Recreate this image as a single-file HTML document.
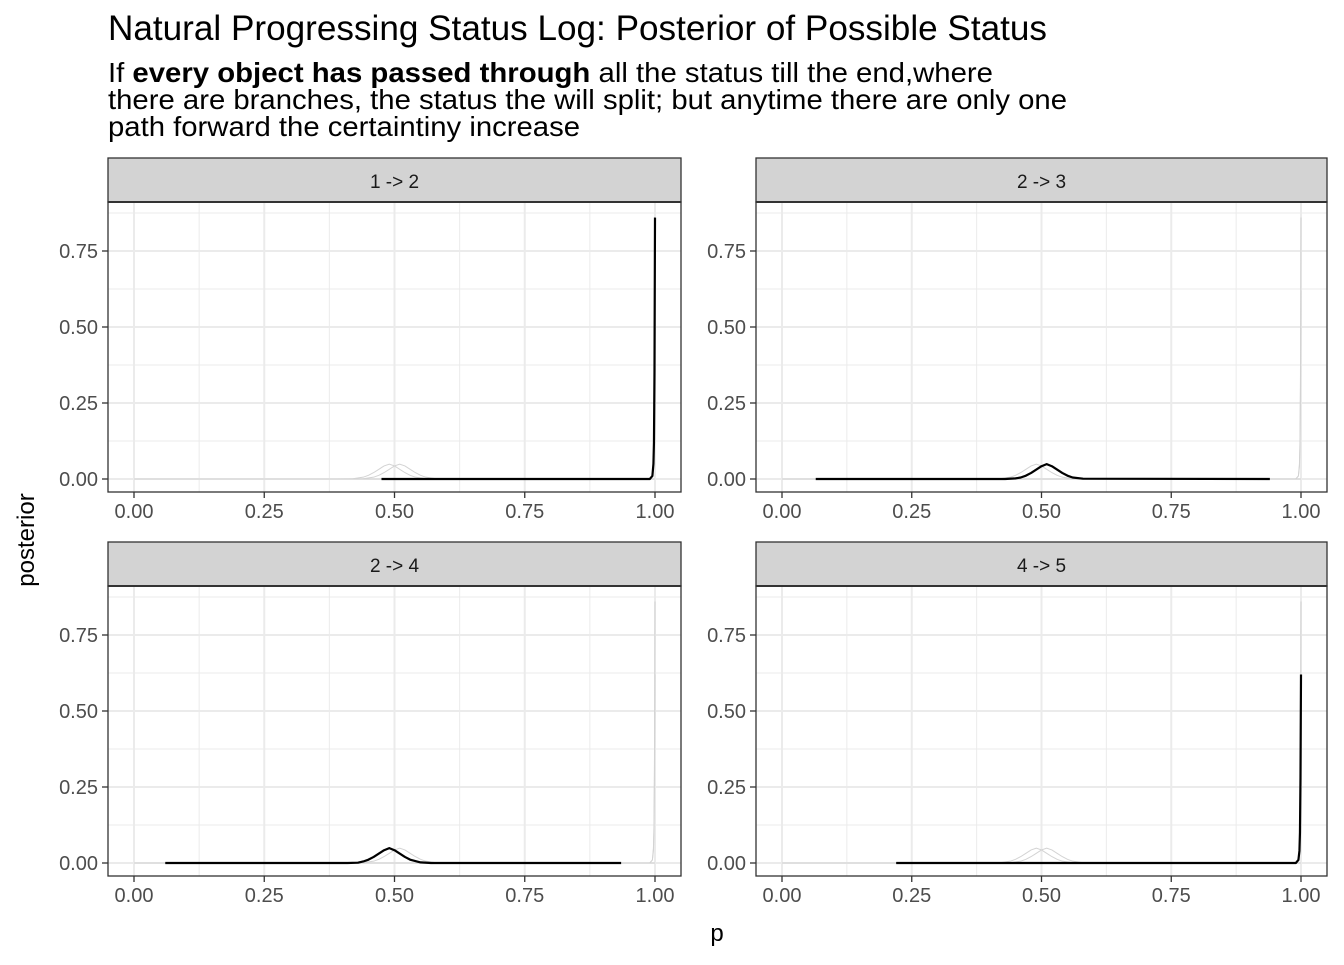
<!DOCTYPE html>
<html><head><meta charset="utf-8">
<style>
body{margin:0;background:#fff;font-family:"Liberation Sans",Arial,sans-serif;}
svg text{font-family:"Liberation Sans",Arial,sans-serif;}
</style></head>
<body>
<svg id="c" width="1344" height="960" xmlns="http://www.w3.org/2000/svg">
<text x="108" y="40" font-size="35" fill="#000" textLength="939" lengthAdjust="spacingAndGlyphs">Natural Progressing Status Log: Posterior of Possible Status</text>
<text x="108" y="82" font-size="28" fill="#000" textLength="885" lengthAdjust="spacingAndGlyphs">If <tspan font-weight="bold">every object has passed through</tspan> all the status till the end,where</text>
<text x="108" y="109" font-size="28" fill="#000" textLength="959" lengthAdjust="spacingAndGlyphs">there are branches, the status the will split; but anytime there are only one</text>
<text x="108" y="136" font-size="28" fill="#000" textLength="472" lengthAdjust="spacingAndGlyphs">path forward the certaintiny increase</text>
<text x="717" y="941" font-size="24" text-anchor="middle">p</text>
<text transform="translate(34,540) rotate(-90)" font-size="24" text-anchor="middle">posterior</text>
<g id="panels"></g>
</svg>
<script>
const facetLabels=["1 -> 2","2 -> 3","2 -> 4","4 -> 5"];
const xTicks=[0,0.25,0.5,0.75,1];
const xTickLabels=["0.00","0.25","0.50","0.75","1.00"];
const yTicks=[0,0.25,0.5,0.75];
const yTickLabels=["0.00","0.25","0.50","0.75"];
const bumpX=[0.40,0.43,0.45,0.46,0.47,0.48,0.49,0.50,0.51,0.52,0.53,0.54,0.55,0.57,0.60];
const bumpY=[0,0.001,0.006,0.012,0.021,0.032,0.043,0.049,0.043,0.032,0.021,0.012,0.006,0.001,0];
const p1X=[0.475,0.99,0.995,0.997,0.998,0.999,1.0];
const p1Y=[0,0,0.01,0.05,0.12,0.35,0.86];
const p2X=[0.065,0.43,0.45,0.46,0.47,0.48,0.49,0.50,0.51,0.52,0.53,0.54,0.55,0.56,0.58,0.94];
const p2Y=[0,0,0.002,0.005,0.011,0.020,0.031,0.042,0.049,0.042,0.031,0.020,0.011,0.005,0.001,0];
const p3X=[0.06,0.41,0.43,0.44,0.45,0.46,0.47,0.48,0.49,0.50,0.51,0.52,0.53,0.55,0.57,0.935];
const p3Y=[0,0,0.001,0.005,0.011,0.020,0.031,0.042,0.049,0.042,0.031,0.020,0.011,0.002,0,0];
const p4X=[0.22,0.99,0.995,0.997,0.998,0.999,1.0];
const p4Y=[0,0,0.01,0.04,0.10,0.28,0.62];
const blackX=[p1X,p2X,p3X,p4X], blackY=[p1Y,p2Y,p3Y,p4Y];
const greyX=[[0,...p1X.slice(1)],[0,...bumpX.map(v=>v+0.01),1],[0,...bumpX.map(v=>v-0.01),1],[0,...p4X.slice(1)]];
const greyY=[[0,...p1Y.slice(1)],[0,...bumpY,0],[0,...bumpY,0],[0,...p4Y.slice(1)]];
const NS="http://www.w3.org/2000/svg";
const G=document.getElementById('panels');
function mk(t,a,parent){const e=document.createElementNS(NS,t);for(const k in a)e.setAttribute(k,a[k]);(parent||G).appendChild(e);return e;}
const layout=[[108,681,158],[756,1327,158],[108,681,542],[756,1327,542]];
layout.forEach((L,i)=>{
  const [x0,x1,top]=L; const sb=top+44, pb=sb+290;
  const g=mk('g',{});
  
  
  const xs=v=>x0+26+v*(x1-x0-52);
  const ys=v=>pb-13-v*(76/0.25);
  for(let k=0;k<4;k++){const v=0.125+k*0.25;const l=mk('line',{x1:xs(v),x2:xs(v),y1:sb,y2:pb,stroke:'#ebebeb','stroke-width':1},g);}
  for(let k=0;k<4;k++){const v=0.125+k*0.25;const l=mk('line',{x1:x0,x2:x1,y1:ys(v),y2:ys(v),stroke:'#ebebeb','stroke-width':1},g);}
  xTicks.forEach(v=>{const l=mk('line',{x1:xs(v),x2:xs(v),y1:sb,y2:pb,stroke:'#ebebeb','stroke-width':2},g);});
  yTicks.forEach(v=>{const l=mk('line',{x1:x0,x2:x1,y1:ys(v),y2:ys(v),stroke:'#ebebeb','stroke-width':2},g);});
  greyX.forEach((gx,j)=>{const pl=mk('polyline',{points:gx.map((v,k)=>xs(v)+','+ys(greyY[j][k])).join(' '),fill:'none',stroke:'#d3d3d3','stroke-width':1},g);});
  const bl=mk('polyline',{points:blackX[i].map((v,k)=>xs(v)+','+ys(blackY[i][k])).join(' '),fill:'none',stroke:'#000','stroke-width':2.2,'stroke-linejoin':'round'},g);
  
  
  const fr=mk('rect',{x:x0,y:sb,width:x1-x0,height:pb-sb,fill:'none',stroke:'#333','stroke-width':1.3},g);
  
  
  const st=mk('rect',{x:x0,y:top,width:x1-x0,height:44,fill:'#d3d3d3',stroke:'#333','stroke-width':1.3},g);
  
  
  const stl=mk('line',{x1:x0,x2:x1,y1:sb,y2:sb,stroke:'#333','stroke-width':2},g);
  
  
  const tl=mk('text',{x:(x0+x1)/2,y:top+30,'font-size':19,'text-anchor':'middle',fill:'#1a1a1a'},g);
  tl.textContent=facetLabels[i];
  
  
  xTicks.forEach((v,k)=>{
    const t=mk('line',{x1:xs(v),x2:xs(v),y1:pb,y2:pb+6,stroke:'#333','stroke-width':1.3},g);
    
    
    const tx=mk('text',{x:xs(v),y:pb+26,'font-size':20,'text-anchor':'middle',fill:'#4d4d4d'},g);
    tx.textContent=xTickLabels[k];
    
    
  });
  yTicks.forEach((v,k)=>{
    const t=mk('line',{x1:x0-6,x2:x0,y1:ys(v),y2:ys(v),stroke:'#333','stroke-width':1.3},g);
    
    
    const tx=mk('text',{x:x0-10,y:ys(v)+7,'font-size':20,'text-anchor':'end',fill:'#4d4d4d'},g);
    tx.textContent=yTickLabels[k];
    
    
  });
});
</script>
</body></html>
